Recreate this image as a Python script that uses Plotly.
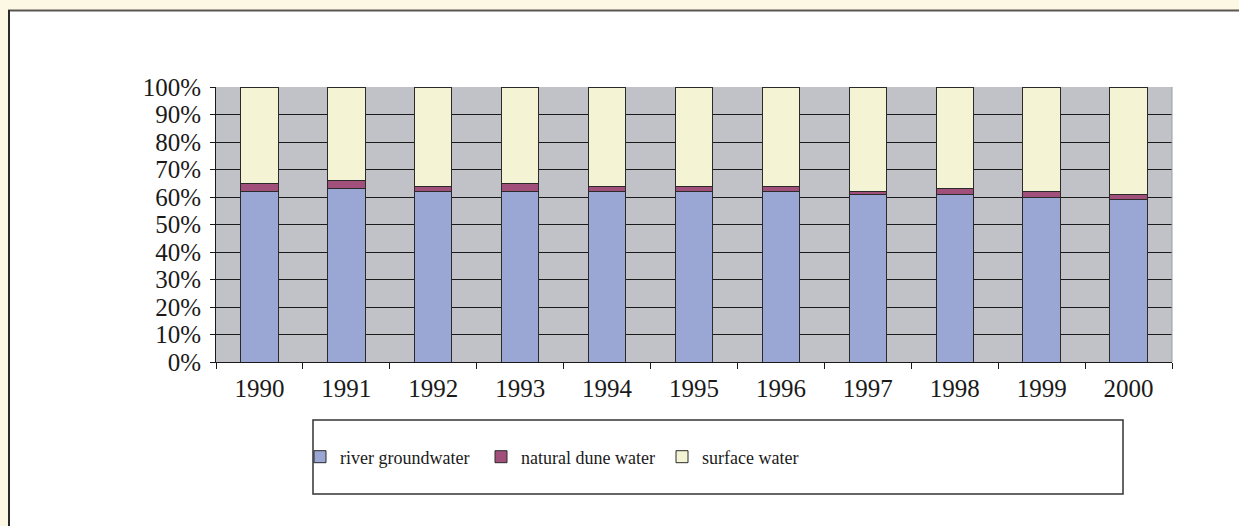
import plotly.graph_objects as go

years = ["1990", "1991", "1992", "1993", "1994", "1995", "1996", "1997", "1998", "1999", "2000"]
river_groundwater = [62, 63, 62, 62, 62, 62, 62, 61, 61, 60, 59]
natural_dune_water = [3, 3, 2, 3, 2, 2, 2, 1, 2, 2, 2]
surface_water = [35, 34, 36, 35, 36, 36, 36, 38, 37, 38, 39]
y_ticks = [0, 10, 20, 30, 40, 50, 60, 70, 80, 90, 100]
y_tick_labels = [f"{v}%" for v in y_ticks]

W, H = 1239, 526
L, R, T, B = 216, 1172, 87, 362
pw, ph = R - L, B - T

def px(x):
    return (x - L) / pw

def py(y):
    return (B - y) / ph

FONT = "Liberation Serif"
outline = dict(color="#2a2a2a", width=1)

fig = go.Figure()
fig.add_bar(x=years, y=river_groundwater, name="river groundwater",
            marker=dict(color="#9AA6D3", line=outline))
fig.add_bar(x=years, y=natural_dune_water, name="natural dune water",
            marker=dict(color="#A0507A", line=outline))
fig.add_bar(x=years, y=surface_water, name="surface water",
            marker=dict(color="#F4F3D3", line=outline))

shapes = [
    # cream page bands
    dict(type="rect", xref="paper", yref="paper", x0=px(0), x1=px(W), y0=py(0), y1=py(10),
         fillcolor="#FCF8E3", line=dict(width=0), layer="below"),
    dict(type="rect", xref="paper", yref="paper", x0=px(0), x1=px(8), y0=py(0), y1=py(H),
         fillcolor="#FCF8E3", line=dict(width=0), layer="below"),
    # white box border
    dict(type="line", xref="paper", yref="paper", x0=px(8), x1=px(W), y0=py(10.5), y1=py(10.5),
         line=dict(color="#5a5752", width=2), layer="below"),
    dict(type="line", xref="paper", yref="paper", x0=px(9), x1=px(9), y0=py(10), y1=py(H),
         line=dict(color="#2a2a2a", width=2), layer="below"),
    # legend box
    dict(type="rect", xref="paper", yref="paper", x0=px(313), x1=px(1123), y0=py(420), y1=py(494),
         fillcolor="rgba(0,0,0,0)", line=dict(color="#333333", width=1.5)),
    # right edge of plot area
    dict(type="line", xref="paper", yref="paper", x0=1, x1=1, y0=0, y1=1,
         line=dict(color="#9a9ca2", width=1)),
]

fig.update_layout(
    width=W, height=H,
    margin=dict(l=L, r=W - R, t=T, b=H - B, autoexpand=False),
    barmode="stack", bargap=0.57,
    paper_bgcolor="white", plot_bgcolor="#C0C2C8",
    font=dict(family=FONT, size=25, color="#1a1a1a"),
    showlegend=True,
    legend=dict(orientation="h", x=px(300), y=py(457), xanchor="left", yanchor="middle",
                bgcolor="rgba(0,0,0,0)", font=dict(family=FONT, size=18, color="#1a1a1a"),
                entrywidth=136, entrywidthmode="pixels", itemwidth=30,
                traceorder="normal"),
    shapes=shapes,
    xaxis=dict(type="category", tickson="boundaries", ticks="outside", ticklen=6,
               tickcolor="#1a1a1a", showline=True, linecolor="#1a1a1a", linewidth=1,
               showgrid=False, ticklabelstandoff=4, fixedrange=True),
    yaxis=dict(range=[0, 100], tickvals=y_ticks, ticktext=y_tick_labels,
               ticks="outside", ticklen=5, tickcolor="#1a1a1a",
               showline=True, linecolor="#1a1a1a", linewidth=1,
               showgrid=True, gridcolor="#1a1a1a", gridwidth=1.2, zeroline=False,
               ticklabelstandoff=4),
)

fig.write_html("out.html", config={"displayModeBar": False},
               post_script="document.body.style.margin='0';document.body.style.padding='0';")
